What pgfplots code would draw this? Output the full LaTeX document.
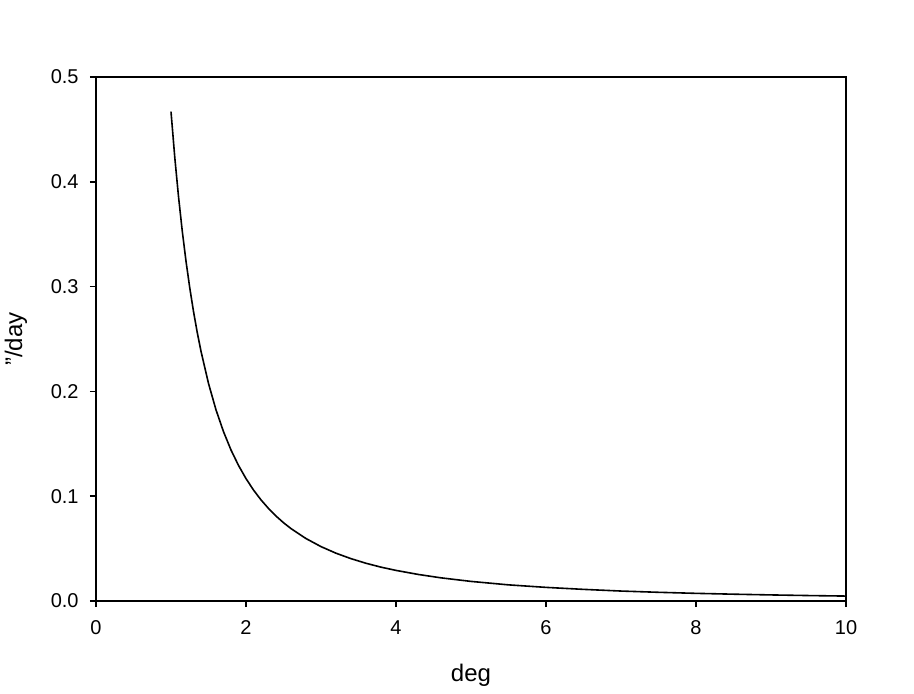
\documentclass[border=0pt]{standalone}
\usepackage{fontspec}
\setmainfont{Liberation Sans}
\usepackage{pgfplots}
\pgfplotsset{compat=1.18}
\begin{document}
\begin{tikzpicture}[x=1pt,y=1pt]
\path[use as bounding box] (-72,-69) rectangle (613.5,450.75);
\begin{axis}[
  at={(0,0)}, anchor=south west,
  scale only axis, width=562.5pt, height=393pt,
  xmin=0, xmax=10, ymin=0, ymax=0.5,
  xtick={0,2,4,6,8,10}, ytick={0,0.1,0.2,0.3,0.4,0.5},
  tick align=outside, tick pos=left,
  major tick length=4.5pt,
  axis line style={line width=1.3pt},
  every tick/.style={line width=1.3pt, black},
  y tick label style={/pgf/number format/fixed, /pgf/number format/fixed zerofill, /pgf/number format/precision=1},
  /pgf/number format/assume math mode=true,
  ticklabel style={font=\fontsize{15}{17}\selectfont},
  xticklabel style={yshift=-6.5pt},
  yticklabel style={xshift=-5pt},
  label style={font=\fontsize{18}{20}\selectfont},
  xlabel={deg}, ylabel={''/day},
  xlabel style={at={(axis description cs:0.5,0)}, anchor=center, yshift=-56pt},
  ylabel style={at={(axis description cs:0,0.5)}, anchor=center, yshift=60pt},
]
\addplot[black, line width=1.2pt, no marks] coordinates {
(1.0,0.4670) (1.05,0.4236) (1.1,0.3860) (1.15,0.3531) (1.2,0.3243) (1.25,0.2989)
(1.3,0.2763) (1.35,0.2562) (1.4,0.2383) (1.5,0.2076) (1.6,0.1824) (1.7,0.1616)
(1.8,0.1441) (1.9,0.1294) (2.0,0.1168) (2.1,0.1059) (2.2,0.0965) (2.3,0.0883)
(2.4,0.0811) (2.5,0.0747) (2.6,0.0691) (2.8,0.0596) (3.0,0.0519) (3.2,0.0456)
(3.4,0.0404) (3.6,0.0360) (3.8,0.0323) (4.0,0.0292) (4.3,0.0253) (4.6,0.0221)
(5.0,0.0187) (5.5,0.0154) (6.0,0.0130) (6.5,0.0111) (7.0,0.0095) (7.5,0.0083)
(8.0,0.0073) (8.5,0.0065) (9.0,0.0058) (9.5,0.0052) (10.0,0.0047)
};
\end{axis}
\end{tikzpicture}
\end{document}
